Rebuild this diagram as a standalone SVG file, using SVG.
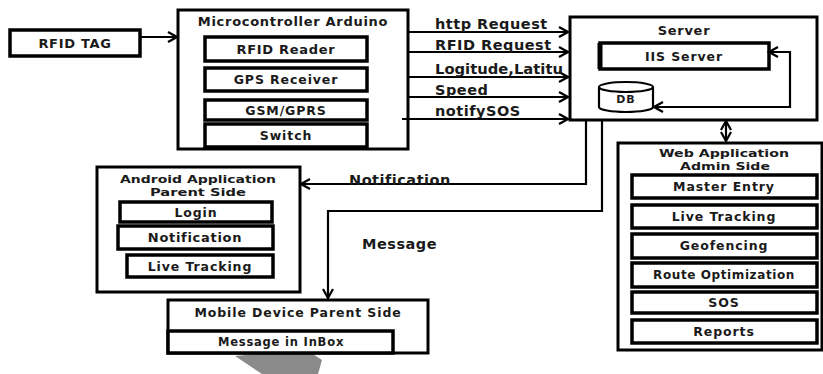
<svg xmlns="http://www.w3.org/2000/svg" width="823" height="374" viewBox="0 0 823 374">
<defs>
<style>
.box{fill:#fff;stroke:#000;stroke-width:3}
.ibox{fill:#fff;stroke:#000;stroke-width:3.5}
.t{font-family:"DejaVu Sans","Liberation Sans",sans-serif;font-weight:bold;fill:#1a1a1a;text-anchor:middle}
.s12{font-size:13px;letter-spacing:0.7px}
.s11{font-size:12.5px;letter-spacing:0.9px}
.hd{font-size:11px}
.lbl{font-family:"DejaVu Sans","Liberation Sans",sans-serif;font-weight:bold;font-size:14.5px;letter-spacing:0.5px;fill:#1a1a1a}
.ln{fill:none;stroke:#000;stroke-width:2.2}
</style>
<marker id="ah" markerWidth="12" markerHeight="12" refX="10" refY="6" orient="auto" markerUnits="userSpaceOnUse">
<path d="M1,1 L10,6 L1,11" fill="none" stroke="#000" stroke-width="2.2"/>
</marker>
<marker id="ahs" markerWidth="12" markerHeight="12" refX="10" refY="6" orient="auto-start-reverse" markerUnits="userSpaceOnUse">
<path d="M1,1 L10,6 L1,11" fill="none" stroke="#000" stroke-width="2.2"/>
</marker>
</defs>

<polygon points="235,356 305,349 322,360 318,374 262,374" fill="#8a8a8a"/>

<g id="connectors">
<line class="ln" x1="140" y1="37" x2="177" y2="37" marker-end="url(#ah)"/>
<line class="ln" x1="408" y1="32" x2="568" y2="32" marker-end="url(#ah)"/>
<line class="ln" x1="408" y1="52" x2="568" y2="52" marker-end="url(#ah)"/>
<line class="ln" x1="408" y1="77" x2="568" y2="77" marker-end="url(#ah)"/>
<line class="ln" x1="408" y1="97" x2="568" y2="97" marker-end="url(#ah)"/>
<line class="ln" x1="726" y1="121" x2="726" y2="141" marker-start="url(#ahs)" marker-end="url(#ah)"/>
<polyline class="ln" points="586,121 586,184 301,184" marker-end="url(#ah)"/>
<polyline class="ln" points="602,121 602,211 328,211 328,298" marker-end="url(#ah)"/>
</g>

<g id="labels">
<text class="lbl" x="435" y="29">http Request</text>
<text class="lbl" x="435" y="50">RFID Request</text>
<text class="lbl" style="letter-spacing:0" x="435" y="74" textLength="128" lengthAdjust="spacingAndGlyphs">Logitude,Latitu</text>
<text class="lbl" x="435" y="95">Speed</text>
<text class="lbl" x="435" y="116">notifySOS</text>
<text class="lbl" x="349" y="185">Notification</text>
<text class="lbl" x="362" y="249">Message</text>
</g>

<g id="rfid-tag">
<rect class="box" x="10" y="30" width="130" height="26" style="stroke-width:3.5"/>
<text class="t s12" x="75" y="48">RFID TAG</text>
</g>

<g id="microcontroller">
<rect class="box" x="178" y="10" width="230" height="139"/>
<text class="t s12" x="293" y="26">Microcontroller Arduino</text>
<rect class="ibox" x="205" y="37" width="162" height="24"/>
<text class="t s12" x="286" y="54">RFID Reader</text>
<rect class="ibox" x="205" y="68" width="162" height="23"/>
<text class="t s11" x="286" y="84">GPS Receiver</text>
<rect class="ibox" x="205" y="100" width="162" height="20"/>
<text class="t s11" x="286" y="115">GSM/GPRS</text>
<rect class="ibox" x="205" y="124" width="162" height="23"/>
<text class="t s11" x="286" y="140">Switch</text>
</g>

<g id="connector-sos">
<line class="ln" x1="402" y1="119" x2="568" y2="119" marker-end="url(#ah)"/>
</g>

<g id="server">
<rect class="box" x="570" y="17" width="247" height="103"/>
<text class="t s12" x="684" y="35">Server</text>
<rect class="ibox" x="600" y="43" width="169" height="26"/>
<line x1="600" y1="43" x2="600" y2="69" stroke="#000" stroke-width="5"/>
<text class="t s11" x="684" y="61">IIS Server</text>
<g id="db">
<path d="M599,87 L599,107 A27,5 0 0 0 653,107 L653,87" fill="#fff" stroke="#000" stroke-width="2.2"/>
<ellipse cx="626" cy="87" rx="27" ry="5" fill="#fff" stroke="#000" stroke-width="2.2"/>
<text class="t" style="font-size:11px;letter-spacing:1px" x="626" y="103">DB</text>
</g>
<polyline class="ln" points="769,52 790,52 790,107 654,107" marker-start="url(#ahs)" marker-end="url(#ah)"/>
</g>

<g id="android-app">
<rect class="box" x="97" y="167" width="203" height="125"/>
<text class="t hd" x="198" y="183" textLength="156" lengthAdjust="spacingAndGlyphs">Android Application</text>
<text class="t hd" x="198" y="196" textLength="96" lengthAdjust="spacingAndGlyphs">Parent Side</text>
<rect class="ibox" x="120" y="202" width="152" height="20"/>
<text class="t s11" x="196" y="217">Login</text>
<rect class="ibox" x="118" y="226" width="155" height="23"/>
<text class="t s12" x="195" y="242">Notification</text>
<rect class="ibox" x="127" y="255" width="146" height="22"/>
<text class="t s11" x="200" y="271">Live Tracking</text>
</g>

<g id="mobile-device">
<rect class="box" x="168" y="300" width="260" height="53"/>
<text class="t s11" x="298" y="317">Mobile Device Parent Side</text>
<rect class="ibox" x="168" y="331" width="225" height="22"/>
<text class="t" style="font-size:11.5px;letter-spacing:0.8px" x="281" y="346">Message in InBox</text>
</g>

<g id="web-app">
<rect class="box" x="618" y="143" width="204" height="207"/>
<text class="t hd" x="724" y="157" textLength="130" lengthAdjust="spacingAndGlyphs">Web Application</text>
<text class="t hd" x="725" y="170" textLength="90" lengthAdjust="spacingAndGlyphs">Admin Side</text>
<rect class="ibox" x="632" y="175" width="185" height="23"/>
<text class="t s11" x="724" y="191">Master Entry</text>
<rect class="ibox" x="632" y="205" width="185" height="23"/>
<text class="t s11" x="724" y="221">Live Tracking</text>
<rect class="ibox" x="632" y="234" width="185" height="24"/>
<text class="t s11" x="724" y="250">Geofencing</text>
<rect class="ibox" x="632" y="263" width="185" height="24"/>
<text class="t" style="font-size:12px;letter-spacing:0.6px" x="724" y="279">Route Optimization</text>
<rect class="ibox" x="632" y="292" width="185" height="21"/>
<text class="t s11" x="724" y="307">SOS</text>
<rect class="ibox" x="632" y="320" width="185" height="23"/>
<text class="t s11" x="724" y="336">Reports</text>
</g>
</svg>
